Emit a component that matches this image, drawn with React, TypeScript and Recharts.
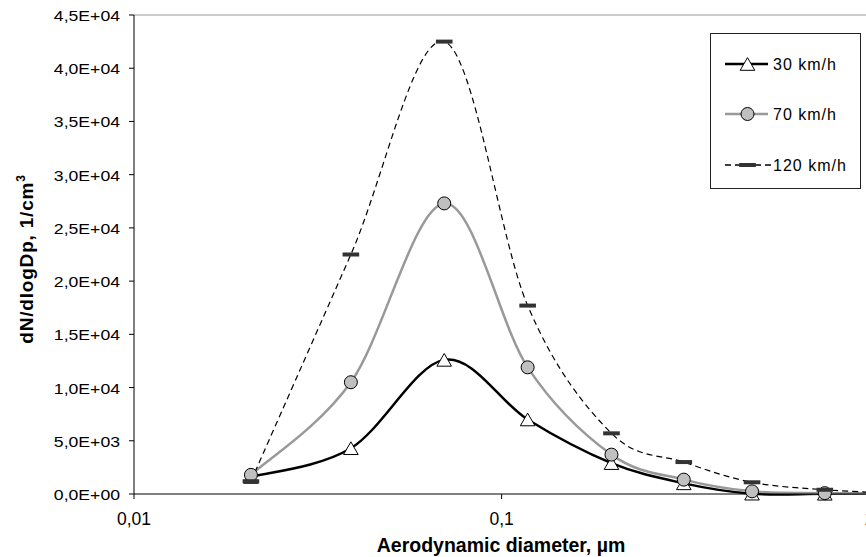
import { LineChart, Line, XAxis, YAxis, ReferenceLine, Legend, Label } from 'recharts'

const diameters = [0.0208, 0.0389, 0.0698, 0.1177, 0.199, 0.313, 0.48, 0.757, 1.19]
const speed30 = [1600, 4300, 12600, 7000, 2900, 1000, 30, 20, 10]
const speed70 = [1800, 10500, 27300, 11900, 3700, 1350, 250, 80, 20]
const speed120 = [1200, 22500, 42500, 17700, 5700, 3000, 1100, 400, 60]

const xTicks = [0.01, 0.1, 1]
const yTicks = [0, 5000, 10000, 15000, 20000, 25000, 30000, 35000, 40000, 45000]

const FONT = '"Liberation Sans", Arial, sans-serif'

const data = diameters.map((d, i) => ({
  d,
  s30: speed30[i],
  s70: speed70[i],
  s120: speed120[i]
}))

// Excel-like smoothed line (Catmull-Rom through every point)
function smoothCurve(context: any) {
  let pts: number[][] = []
  return {
    areaStart() {},
    areaEnd() {},
    lineStart() {
      pts = []
    },
    point(x: number, y: number) {
      pts.push([+x, +y])
    },
    lineEnd() {
      if (!pts.length) return
      context.moveTo(pts[0][0], pts[0][1])
      const k = 1 / 6
      for (let i = 0; i < pts.length - 1; i++) {
        const p0 = pts[i - 1] || pts[i]
        const p1 = pts[i]
        const p2 = pts[i + 1]
        const p3 = pts[i + 2] || p2
        context.bezierCurveTo(
          p1[0] + (p2[0] - p0[0]) * k,
          p1[1] + (p2[1] - p0[1]) * k,
          p2[0] - (p3[0] - p1[0]) * k,
          p2[1] - (p3[1] - p1[1]) * k,
          p2[0],
          p2[1]
        )
      }
    }
  }
}

const sci = (v: number) => {
  if (v === 0) return '0,0E+00'
  const e = Math.floor(Math.log10(v))
  const m = v / Math.pow(10, e)
  return `${m.toFixed(1).replace('.', ',')}E+${String(e).padStart(2, '0')}`
}

const triPath = (cx: number, cy: number) =>
  `M${cx},${cy - 6.4} L${cx + 7.3},${cy + 6.3} L${cx - 7.3},${cy + 6.3} Z`

const TriangleDot = (props: any) => {
  const { cx, cy, index } = props
  if (cx == null || cy == null) return <g key={`t-${index}`} />
  return <path key={`t-${index}`} d={triPath(cx, cy)} fill="#fff" stroke="#000" strokeWidth={1} />
}

const CircleDot = (props: any) => {
  const { cx, cy, index } = props
  if (cx == null || cy == null) return <g key={`c-${index}`} />
  return <circle key={`c-${index}`} cx={cx} cy={cy} r={6.5} fill="#c0c0c0" stroke="#000" strokeWidth={1} />
}

const DashDot = (props: any) => {
  const { cx, cy, index } = props
  if (cx == null || cy == null) return <g key={`d-${index}`} />
  return <rect key={`d-${index}`} x={cx - 8.3} y={cy - 2} width={16.6} height={4} fill="#333" />
}

const YTick = ({ x, y, payload }: any) => (
  <text
    transform={`translate(${x - 9},${y + 6}) scale(1.26,1)`}
    textAnchor="end"
    fontSize={14}
    fontFamily={FONT}
    fill="#000"
  >
    {sci(payload.value)}
  </text>
)

const XTick = ({ x, y, payload }: any) => (
  <text x={x} y={y + 26} textAnchor="middle" fontSize={17.5} fontFamily={FONT} fill="#000">
    {String(payload.value).replace('.', ',')}
  </text>
)

const legendRows = [
  { name: '30 km/h', y: 30 },
  { name: '70 km/h', y: 80 },
  { name: '120 km/h', y: 131 }
]

const LegendBox = () => (
  <div style={{ width: 151, height: 156, border: '1px solid #222', boxSizing: 'border-box', background: '#fff' }}>
    <svg width={149} height={154} style={{ display: 'block' }}>
      <line x1={14} x2={57} y1={legendRows[0].y} y2={legendRows[0].y} stroke="#000" strokeWidth={2.5} />
      <path d={triPath(36.5, legendRows[0].y)} fill="#fff" stroke="#000" strokeWidth={1} />
      <line x1={14} x2={57} y1={legendRows[1].y} y2={legendRows[1].y} stroke="#999" strokeWidth={2.5} />
      <circle cx={36.5} cy={legendRows[1].y} r={6.5} fill="#c0c0c0" stroke="#000" strokeWidth={1} />
      <line x1={14} x2={60} y1={legendRows[2].y} y2={legendRows[2].y} stroke="#000" strokeWidth={1.3} strokeDasharray="6 4" />
      <rect x={28.2} y={legendRows[2].y - 2} width={16.6} height={4} fill="#333" />
      {legendRows.map((r) => (
        <text key={r.name} x={62} y={r.y + 5.5} fontSize={16} letterSpacing={1} fontFamily={FONT} fill="#000">
          {r.name}
        </text>
      ))}
    </svg>
  </div>
)

export default function App() {
  return (
    <div style={{ position: 'absolute', left: 0, top: 0, width: 866, height: 557, overflow: 'hidden', background: '#fff' }}>
      <LineChart width={897} height={557} data={data} margin={{ top: 15, right: 0, bottom: 0, left: 0 }}>
        <XAxis
          dataKey="d"
          type="number"
          scale="log"
          domain={[0.01, 1.19]}
          ticks={xTicks}
          tick={<XTick />}
          tickSize={5}
          tickMargin={0}
          height={63}
          axisLine={{ stroke: '#000', strokeWidth: 1 }}
          tickLine={{ stroke: '#000', strokeWidth: 1 }}
        >
          <Label
            content={() => (
              <text x={501} y={551.5} textAnchor="middle" fontSize={19.5} fontWeight="bold" fontFamily={FONT} fill="#000">
                Aerodynamic diameter, µm
              </text>
            )}
          />
        </XAxis>
        <YAxis
          type="number"
          domain={[0, 45000]}
          ticks={yTicks}
          tick={<YTick />}
          tickSize={5}
          tickMargin={0}
          width={134}
          axisLine={{ stroke: '#000', strokeWidth: 1 }}
          tickLine={{ stroke: '#000', strokeWidth: 1 }}
        >
          <Label
            content={() => (
              <text
                transform="translate(33,259) rotate(-90)"
                textAnchor="middle"
                fontSize={19}
                letterSpacing={0.8}
                fontWeight="bold"
                fontFamily={FONT}
                fill="#000"
              >
                dN/dlogDp, 1/cm<tspan dy={-8} fontSize={12}>3</tspan>
              </text>
            )}
          />
        </YAxis>
        <ReferenceLine y={45000} stroke="#999" strokeWidth={1} />
        <Legend
          layout="horizontal"
          verticalAlign="middle"
          align="center"
          content={() => <LegendBox />}
          wrapperStyle={{ left: 710, top: 33, width: 151, height: 156 }}
        />
        <Line
          name="30 km/h"
          dataKey="s30"
          type={smoothCurve as any}
          stroke="#000"
          strokeWidth={2.5}
          dot={TriangleDot}
          activeDot={false}
          isAnimationActive={false}
        />
        <Line
          name="70 km/h"
          dataKey="s70"
          type={smoothCurve as any}
          stroke="#999"
          strokeWidth={2.5}
          dot={CircleDot}
          activeDot={false}
          isAnimationActive={false}
        />
        <Line
          name="120 km/h"
          dataKey="s120"
          type={smoothCurve as any}
          stroke="#000"
          strokeWidth={1.2}
          strokeDasharray="6 4"
          dot={DashDot}
          activeDot={false}
          isAnimationActive={false}
        />
      </LineChart>
    </div>
  )
}
